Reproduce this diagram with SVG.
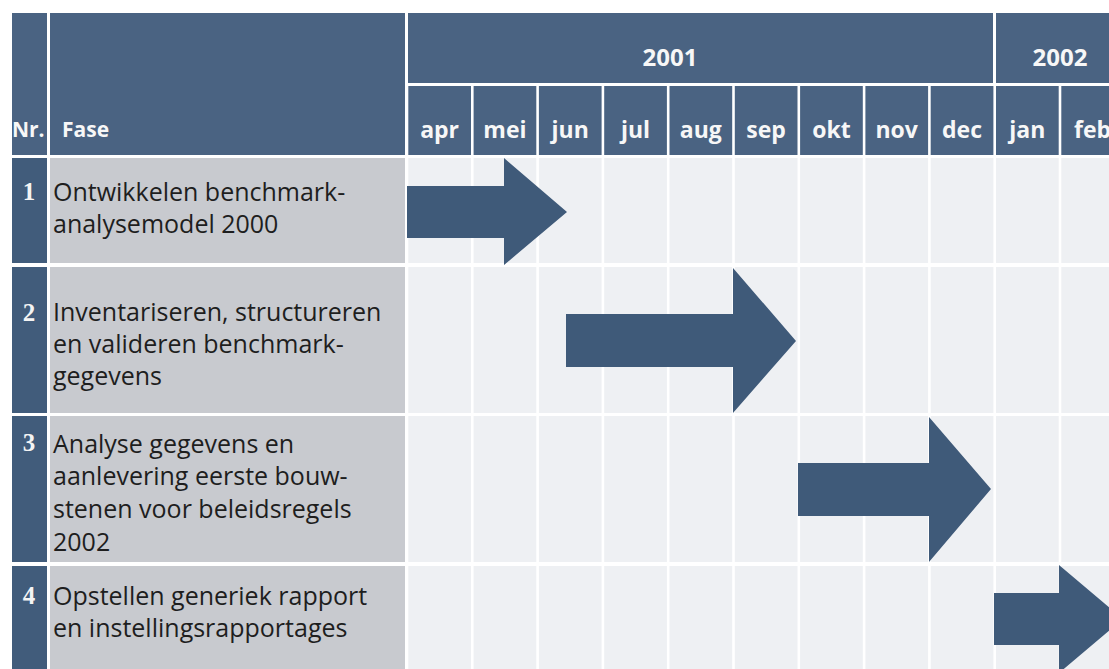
<svg xmlns="http://www.w3.org/2000/svg" width="1109" height="669" viewBox="0 0 1109 669">
  <style>
    .hd { fill: #4a6382; }
    .nr { fill: #415c7b; }
    .fase { fill: #c8cacf; }
    .cell { fill: #eef0f3; }
    .bar { fill: #3f5a79; }
    .ht { font-family: "Open Sans", "Liberation Sans", sans-serif; font-weight: bold; fill: #f7f7f7; font-size: 21px; }
    .mt { font-family: "Open Sans", "Liberation Sans", sans-serif; font-weight: bold; fill: #f7f7f7; font-size: 23px; text-anchor: middle; }
    .yr { font-family: "Open Sans", "Liberation Sans", sans-serif; font-weight: bold; fill: #f7f7f7; font-size: 24px; text-anchor: middle; }
    .num { font-family: "Liberation Serif", serif; font-weight: bold; fill: #f4f4f4; font-size: 25px; text-anchor: middle; }
    .lbl { font-family: "Open Sans", "Liberation Sans", sans-serif; fill: #1e1e1e; font-size: 25px; }
  </style>

  <rect x="0" y="0" width="1109" height="669" fill="#ffffff"/>

  <!-- header -->
  <g id="header">
    <rect class="hd" x="12" y="13" width="35" height="142"/>
    <rect class="hd" x="50" y="13" width="355" height="142"/>
    <rect class="hd" x="408" y="13" width="585" height="70"/>
    <rect class="hd" x="996" y="13" width="120" height="70"/>
    <text class="ht" x="12" y="137">Nr.</text>
    <text class="ht" x="62" y="137">Fase</text>
    <text class="yr" x="670" y="66">2001</text>
    <text class="yr" x="1060" y="66">2002</text>
    <g id="months">
      <rect class="hd" x="408.3" y="86" width="62.7" height="69"/>
      <rect class="hd" x="473.6" y="86" width="62.7" height="69"/>
      <rect class="hd" x="538.9" y="86" width="62.7" height="69"/>
      <rect class="hd" x="604.2" y="86" width="62.7" height="69"/>
      <rect class="hd" x="669.5" y="86" width="62.7" height="69"/>
      <rect class="hd" x="734.8" y="86" width="62.7" height="69"/>
      <rect class="hd" x="800.1" y="86" width="62.7" height="69"/>
      <rect class="hd" x="865.4" y="86" width="62.7" height="69"/>
      <rect class="hd" x="930.7" y="86" width="62.7" height="69"/>
      <rect class="hd" x="996.0" y="86" width="62.7" height="69"/>
      <rect class="hd" x="1061.3" y="86" width="62.7" height="69"/>
      <text class="mt" x="439.6" y="138">apr</text>
      <text class="mt" x="504.9" y="138">mei</text>
      <text class="mt" x="570.2" y="138">jun</text>
      <text class="mt" x="635.5" y="138">jul</text>
      <text class="mt" x="700.8" y="138">aug</text>
      <text class="mt" x="766.1" y="138">sep</text>
      <text class="mt" x="831.4" y="138">okt</text>
      <text class="mt" x="896.7" y="138">nov</text>
      <text class="mt" x="962.0" y="138">dec</text>
      <text class="mt" x="1027.3" y="138">jan</text>
      <text class="mt" x="1092.6" y="138">feb</text>
    </g>
  </g>

  <g id="phase1">
    <rect class="nr" x="12" y="158" width="35" height="105"/>
    <rect class="fase" x="50" y="158" width="355" height="105"/>
    <g class="cells">
      <rect class="cell" x="408.3" y="158" width="62.7" height="105"/>
      <rect class="cell" x="473.6" y="158" width="62.7" height="105"/>
      <rect class="cell" x="538.9" y="158" width="62.7" height="105"/>
      <rect class="cell" x="604.2" y="158" width="62.7" height="105"/>
      <rect class="cell" x="669.5" y="158" width="62.7" height="105"/>
      <rect class="cell" x="734.8" y="158" width="62.7" height="105"/>
      <rect class="cell" x="800.1" y="158" width="62.7" height="105"/>
      <rect class="cell" x="865.4" y="158" width="62.7" height="105"/>
      <rect class="cell" x="930.7" y="158" width="62.7" height="105"/>
      <rect class="cell" x="996.0" y="158" width="62.7" height="105"/>
      <rect class="cell" x="1061.3" y="158" width="62.7" height="105"/>
    </g>
    <text class="num" x="29" y="200">1</text>
    <text class="lbl" x="53" y="201">Ontwikkelen benchmark-</text>
    <text class="lbl" x="53" y="233">analysemodel 2000</text>
  </g>

  <g id="phase2">
    <rect class="nr" x="12" y="267" width="35" height="146"/>
    <rect class="fase" x="50" y="267" width="355" height="146"/>
    <g class="cells">
      <rect class="cell" x="408.3" y="267" width="62.7" height="146"/>
      <rect class="cell" x="473.6" y="267" width="62.7" height="146"/>
      <rect class="cell" x="538.9" y="267" width="62.7" height="146"/>
      <rect class="cell" x="604.2" y="267" width="62.7" height="146"/>
      <rect class="cell" x="669.5" y="267" width="62.7" height="146"/>
      <rect class="cell" x="734.8" y="267" width="62.7" height="146"/>
      <rect class="cell" x="800.1" y="267" width="62.7" height="146"/>
      <rect class="cell" x="865.4" y="267" width="62.7" height="146"/>
      <rect class="cell" x="930.7" y="267" width="62.7" height="146"/>
      <rect class="cell" x="996.0" y="267" width="62.7" height="146"/>
      <rect class="cell" x="1061.3" y="267" width="62.7" height="146"/>
    </g>
    <text class="num" x="29" y="321">2</text>
    <text class="lbl" x="53" y="321">Inventariseren, structureren</text>
    <text class="lbl" x="53" y="353">en valideren benchmark-</text>
    <text class="lbl" x="53" y="385">gegevens</text>
  </g>

  <g id="phase3">
    <rect class="nr" x="12" y="416" width="35" height="146"/>
    <rect class="fase" x="50" y="416" width="355" height="146"/>
    <g class="cells">
      <rect class="cell" x="408.3" y="416" width="62.7" height="146"/>
      <rect class="cell" x="473.6" y="416" width="62.7" height="146"/>
      <rect class="cell" x="538.9" y="416" width="62.7" height="146"/>
      <rect class="cell" x="604.2" y="416" width="62.7" height="146"/>
      <rect class="cell" x="669.5" y="416" width="62.7" height="146"/>
      <rect class="cell" x="734.8" y="416" width="62.7" height="146"/>
      <rect class="cell" x="800.1" y="416" width="62.7" height="146"/>
      <rect class="cell" x="865.4" y="416" width="62.7" height="146"/>
      <rect class="cell" x="930.7" y="416" width="62.7" height="146"/>
      <rect class="cell" x="996.0" y="416" width="62.7" height="146"/>
      <rect class="cell" x="1061.3" y="416" width="62.7" height="146"/>
    </g>
    <text class="num" x="29" y="451">3</text>
    <text class="lbl" x="53" y="453">Analyse gegevens en</text>
    <text class="lbl" x="53" y="485">aanlevering eerste bouw-</text>
    <text class="lbl" x="53" y="518">stenen voor beleidsregels</text>
    <text class="lbl" x="53" y="551">2002</text>
  </g>

  <g id="phase4">
    <rect class="nr" x="12" y="566" width="35" height="110"/>
    <rect class="fase" x="50" y="566" width="355" height="110"/>
    <g class="cells">
      <rect class="cell" x="408.3" y="566" width="62.7" height="110"/>
      <rect class="cell" x="473.6" y="566" width="62.7" height="110"/>
      <rect class="cell" x="538.9" y="566" width="62.7" height="110"/>
      <rect class="cell" x="604.2" y="566" width="62.7" height="110"/>
      <rect class="cell" x="669.5" y="566" width="62.7" height="110"/>
      <rect class="cell" x="734.8" y="566" width="62.7" height="110"/>
      <rect class="cell" x="800.1" y="566" width="62.7" height="110"/>
      <rect class="cell" x="865.4" y="566" width="62.7" height="110"/>
      <rect class="cell" x="930.7" y="566" width="62.7" height="110"/>
      <rect class="cell" x="996.0" y="566" width="62.7" height="110"/>
      <rect class="cell" x="1061.3" y="566" width="62.7" height="110"/>
    </g>
    <text class="num" x="29" y="604">4</text>
    <text class="lbl" x="53" y="605">Opstellen generiek rapport</text>
    <text class="lbl" x="53" y="637">en instellingsrapportages</text>
  </g>

  <!-- timeline arrows -->
  <g id="bars">
    <polygon class="bar" points="407,186 504,186 504,158 567,212 504,265 504,238 407,238"/>
    <polygon class="bar" points="566,314 733,314 733,268 796,341 733,413 733,367 566,367"/>
    <polygon class="bar" points="798,463 929,463 929,417 991,489 929,562 929,516 798,516"/>
    <polygon class="bar" points="994,593 1059,593 1059,565 1123,619 1059,673 1059,645 994,645"/>
  </g>
</svg>
